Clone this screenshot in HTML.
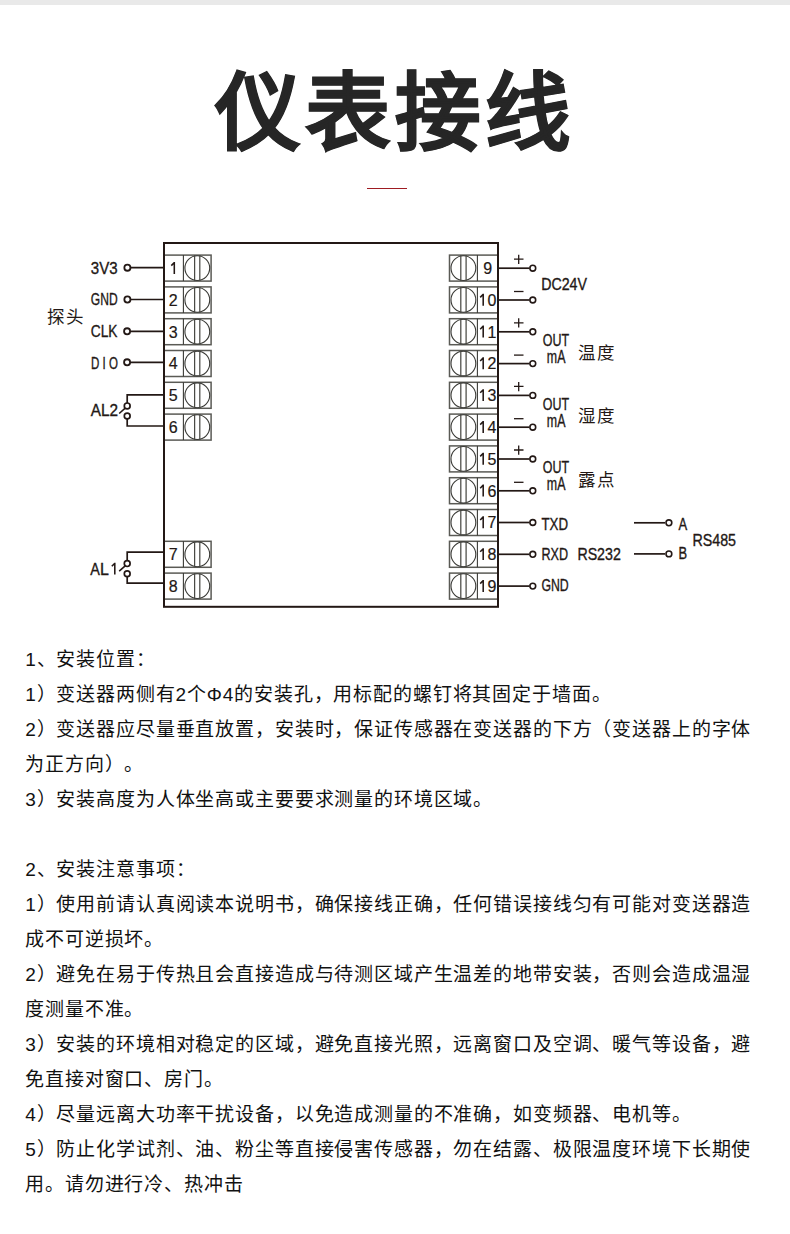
<!DOCTYPE html>
<html lang="zh-CN"><head><meta charset="utf-8">
<style>
html,body{margin:0;padding:0;background:#fff;}
body{width:790px;height:1234px;position:relative;overflow:hidden;font-family:"Liberation Sans",sans-serif;}
.topbar{position:absolute;left:0;top:0;width:790px;height:5px;background:#e9e9e9;}
.title{position:absolute;left:215px;top:43.5px;font-size:85.5px;letter-spacing:4.1px;-webkit-text-stroke:1px #262626;font-weight:bold;color:#262626;line-height:140px;white-space:nowrap;}
.redline{position:absolute;left:367px;top:188px;width:40px;height:1px;background:#9e1b22;}
.t{position:absolute;left:25.2px;font-size:19px;letter-spacing:0.85px;color:#111;font-weight:500;white-space:nowrap;line-height:35px;text-spacing-trim:space-all;}
svg{position:absolute;left:0;top:0;}
.num{font-family:"Liberation Sans",sans-serif;font-size:16px;fill:#231815;stroke:#231815;stroke-width:0.2px;}
.lab{font-family:"Liberation Sans",sans-serif;font-size:17px;fill:#231815;stroke:#231815;stroke-width:0.35px;}
.cjk{font-family:"Liberation Sans",sans-serif;font-size:17.5px;letter-spacing:2.1px;font-weight:500;fill:#231815;}
</style></head><body>
<div class="topbar"></div>
<div class="title">仪表接线</div>
<div class="redline"></div>
<svg width="790" height="640" viewBox="0 0 790 640">
<rect x="164" y="255.10" width="47.10" height="26.0" fill="none" stroke="#5a5a55" stroke-width="1.5"/>
<line x1="183.4" y1="255.10" x2="183.4" y2="281.10" stroke="#3a3a36" stroke-width="1.1"/>
<circle cx="197.3" cy="268.10" r="12.4" fill="none" stroke="#3a3a36" stroke-width="1.1"/>
<line x1="194.60000000000002" y1="255.10" x2="194.60000000000002" y2="281.10" stroke="#4a4a45" stroke-width="1.25"/>
<line x1="199.8" y1="255.10" x2="199.8" y2="281.10" stroke="#4a4a45" stroke-width="1.25"/>
<path d="M171.30 265.60 L174.10 262.70 H174.30 V273.90" fill="none" stroke="#231815" stroke-width="1.55" stroke-linejoin="miter"/>
<rect x="164" y="286.90" width="47.10" height="26.0" fill="none" stroke="#5a5a55" stroke-width="1.5"/>
<line x1="183.4" y1="286.90" x2="183.4" y2="312.90" stroke="#3a3a36" stroke-width="1.1"/>
<circle cx="197.3" cy="299.90" r="12.4" fill="none" stroke="#3a3a36" stroke-width="1.1"/>
<line x1="194.60000000000002" y1="286.90" x2="194.60000000000002" y2="312.90" stroke="#4a4a45" stroke-width="1.25"/>
<line x1="199.8" y1="286.90" x2="199.8" y2="312.90" stroke="#4a4a45" stroke-width="1.25"/>
<text x="173.3" y="305.70" class="num" text-anchor="middle">2</text>
<rect x="164" y="318.70" width="47.10" height="26.0" fill="none" stroke="#5a5a55" stroke-width="1.5"/>
<line x1="183.4" y1="318.70" x2="183.4" y2="344.70" stroke="#3a3a36" stroke-width="1.1"/>
<circle cx="197.3" cy="331.70" r="12.4" fill="none" stroke="#3a3a36" stroke-width="1.1"/>
<line x1="194.60000000000002" y1="318.70" x2="194.60000000000002" y2="344.70" stroke="#4a4a45" stroke-width="1.25"/>
<line x1="199.8" y1="318.70" x2="199.8" y2="344.70" stroke="#4a4a45" stroke-width="1.25"/>
<text x="173.3" y="337.50" class="num" text-anchor="middle">3</text>
<rect x="164" y="350.50" width="47.10" height="26.0" fill="none" stroke="#5a5a55" stroke-width="1.5"/>
<line x1="183.4" y1="350.50" x2="183.4" y2="376.50" stroke="#3a3a36" stroke-width="1.1"/>
<circle cx="197.3" cy="363.50" r="12.4" fill="none" stroke="#3a3a36" stroke-width="1.1"/>
<line x1="194.60000000000002" y1="350.50" x2="194.60000000000002" y2="376.50" stroke="#4a4a45" stroke-width="1.25"/>
<line x1="199.8" y1="350.50" x2="199.8" y2="376.50" stroke="#4a4a45" stroke-width="1.25"/>
<text x="173.3" y="369.30" class="num" text-anchor="middle">4</text>
<rect x="164" y="382.30" width="47.10" height="26.0" fill="none" stroke="#5a5a55" stroke-width="1.5"/>
<line x1="183.4" y1="382.30" x2="183.4" y2="408.30" stroke="#3a3a36" stroke-width="1.1"/>
<circle cx="197.3" cy="395.30" r="12.4" fill="none" stroke="#3a3a36" stroke-width="1.1"/>
<line x1="194.60000000000002" y1="382.30" x2="194.60000000000002" y2="408.30" stroke="#4a4a45" stroke-width="1.25"/>
<line x1="199.8" y1="382.30" x2="199.8" y2="408.30" stroke="#4a4a45" stroke-width="1.25"/>
<text x="173.3" y="401.10" class="num" text-anchor="middle">5</text>
<rect x="164" y="414.10" width="47.10" height="26.0" fill="none" stroke="#5a5a55" stroke-width="1.5"/>
<line x1="183.4" y1="414.10" x2="183.4" y2="440.10" stroke="#3a3a36" stroke-width="1.1"/>
<circle cx="197.3" cy="427.10" r="12.4" fill="none" stroke="#3a3a36" stroke-width="1.1"/>
<line x1="194.60000000000002" y1="414.10" x2="194.60000000000002" y2="440.10" stroke="#4a4a45" stroke-width="1.25"/>
<line x1="199.8" y1="414.10" x2="199.8" y2="440.10" stroke="#4a4a45" stroke-width="1.25"/>
<text x="173.3" y="432.90" class="num" text-anchor="middle">6</text>
<rect x="164" y="541.30" width="47.10" height="26.0" fill="none" stroke="#5a5a55" stroke-width="1.5"/>
<line x1="183.4" y1="541.30" x2="183.4" y2="567.30" stroke="#3a3a36" stroke-width="1.1"/>
<circle cx="197.3" cy="554.30" r="12.4" fill="none" stroke="#3a3a36" stroke-width="1.1"/>
<line x1="194.60000000000002" y1="541.30" x2="194.60000000000002" y2="567.30" stroke="#4a4a45" stroke-width="1.25"/>
<line x1="199.8" y1="541.30" x2="199.8" y2="567.30" stroke="#4a4a45" stroke-width="1.25"/>
<text x="173.3" y="560.10" class="num" text-anchor="middle">7</text>
<rect x="164" y="573.10" width="47.10" height="26.0" fill="none" stroke="#5a5a55" stroke-width="1.5"/>
<line x1="183.4" y1="573.10" x2="183.4" y2="599.10" stroke="#3a3a36" stroke-width="1.1"/>
<circle cx="197.3" cy="586.10" r="12.4" fill="none" stroke="#3a3a36" stroke-width="1.1"/>
<line x1="194.60000000000002" y1="573.10" x2="194.60000000000002" y2="599.10" stroke="#4a4a45" stroke-width="1.25"/>
<line x1="199.8" y1="573.10" x2="199.8" y2="599.10" stroke="#4a4a45" stroke-width="1.25"/>
<text x="173.3" y="591.90" class="num" text-anchor="middle">8</text>
<rect x="449.5" y="255.10" width="48.50" height="26.0" fill="none" stroke="#5a5a55" stroke-width="1.5"/>
<line x1="477.4" y1="255.10" x2="477.4" y2="281.10" stroke="#3a3a36" stroke-width="1.1"/>
<circle cx="463.4" cy="268.10" r="12.4" fill="none" stroke="#3a3a36" stroke-width="1.1"/>
<line x1="460.79999999999995" y1="255.10" x2="460.79999999999995" y2="281.10" stroke="#4a4a45" stroke-width="1.25"/>
<line x1="466.09999999999997" y1="255.10" x2="466.09999999999997" y2="281.10" stroke="#4a4a45" stroke-width="1.25"/>
<text x="487.6" y="273.90" class="num" text-anchor="middle">9</text>
<rect x="449.5" y="286.90" width="48.50" height="26.0" fill="none" stroke="#5a5a55" stroke-width="1.5"/>
<line x1="477.4" y1="286.90" x2="477.4" y2="312.90" stroke="#3a3a36" stroke-width="1.1"/>
<circle cx="463.4" cy="299.90" r="12.4" fill="none" stroke="#3a3a36" stroke-width="1.1"/>
<line x1="460.79999999999995" y1="286.90" x2="460.79999999999995" y2="312.90" stroke="#4a4a45" stroke-width="1.25"/>
<line x1="466.09999999999997" y1="286.90" x2="466.09999999999997" y2="312.90" stroke="#4a4a45" stroke-width="1.25"/>
<path d="M480.20 297.40 L483.00 294.50 H483.20 V305.70" fill="none" stroke="#231815" stroke-width="1.55" stroke-linejoin="miter"/>
<text x="487.40" y="305.70" class="num">0</text>
<rect x="449.5" y="318.70" width="48.50" height="26.0" fill="none" stroke="#5a5a55" stroke-width="1.5"/>
<line x1="477.4" y1="318.70" x2="477.4" y2="344.70" stroke="#3a3a36" stroke-width="1.1"/>
<circle cx="463.4" cy="331.70" r="12.4" fill="none" stroke="#3a3a36" stroke-width="1.1"/>
<line x1="460.79999999999995" y1="318.70" x2="460.79999999999995" y2="344.70" stroke="#4a4a45" stroke-width="1.25"/>
<line x1="466.09999999999997" y1="318.70" x2="466.09999999999997" y2="344.70" stroke="#4a4a45" stroke-width="1.25"/>
<path d="M480.20 329.20 L483.00 326.30 H483.20 V337.50" fill="none" stroke="#231815" stroke-width="1.55" stroke-linejoin="miter"/>
<text x="487.40" y="337.50" class="num">1</text>
<rect x="449.5" y="350.50" width="48.50" height="26.0" fill="none" stroke="#5a5a55" stroke-width="1.5"/>
<line x1="477.4" y1="350.50" x2="477.4" y2="376.50" stroke="#3a3a36" stroke-width="1.1"/>
<circle cx="463.4" cy="363.50" r="12.4" fill="none" stroke="#3a3a36" stroke-width="1.1"/>
<line x1="460.79999999999995" y1="350.50" x2="460.79999999999995" y2="376.50" stroke="#4a4a45" stroke-width="1.25"/>
<line x1="466.09999999999997" y1="350.50" x2="466.09999999999997" y2="376.50" stroke="#4a4a45" stroke-width="1.25"/>
<path d="M480.20 361.00 L483.00 358.10 H483.20 V369.30" fill="none" stroke="#231815" stroke-width="1.55" stroke-linejoin="miter"/>
<text x="487.40" y="369.30" class="num">2</text>
<rect x="449.5" y="382.30" width="48.50" height="26.0" fill="none" stroke="#5a5a55" stroke-width="1.5"/>
<line x1="477.4" y1="382.30" x2="477.4" y2="408.30" stroke="#3a3a36" stroke-width="1.1"/>
<circle cx="463.4" cy="395.30" r="12.4" fill="none" stroke="#3a3a36" stroke-width="1.1"/>
<line x1="460.79999999999995" y1="382.30" x2="460.79999999999995" y2="408.30" stroke="#4a4a45" stroke-width="1.25"/>
<line x1="466.09999999999997" y1="382.30" x2="466.09999999999997" y2="408.30" stroke="#4a4a45" stroke-width="1.25"/>
<path d="M480.20 392.80 L483.00 389.90 H483.20 V401.10" fill="none" stroke="#231815" stroke-width="1.55" stroke-linejoin="miter"/>
<text x="487.40" y="401.10" class="num">3</text>
<rect x="449.5" y="414.10" width="48.50" height="26.0" fill="none" stroke="#5a5a55" stroke-width="1.5"/>
<line x1="477.4" y1="414.10" x2="477.4" y2="440.10" stroke="#3a3a36" stroke-width="1.1"/>
<circle cx="463.4" cy="427.10" r="12.4" fill="none" stroke="#3a3a36" stroke-width="1.1"/>
<line x1="460.79999999999995" y1="414.10" x2="460.79999999999995" y2="440.10" stroke="#4a4a45" stroke-width="1.25"/>
<line x1="466.09999999999997" y1="414.10" x2="466.09999999999997" y2="440.10" stroke="#4a4a45" stroke-width="1.25"/>
<path d="M480.20 424.60 L483.00 421.70 H483.20 V432.90" fill="none" stroke="#231815" stroke-width="1.55" stroke-linejoin="miter"/>
<text x="487.40" y="432.90" class="num">4</text>
<rect x="449.5" y="445.90" width="48.50" height="26.0" fill="none" stroke="#5a5a55" stroke-width="1.5"/>
<line x1="477.4" y1="445.90" x2="477.4" y2="471.90" stroke="#3a3a36" stroke-width="1.1"/>
<circle cx="463.4" cy="458.90" r="12.4" fill="none" stroke="#3a3a36" stroke-width="1.1"/>
<line x1="460.79999999999995" y1="445.90" x2="460.79999999999995" y2="471.90" stroke="#4a4a45" stroke-width="1.25"/>
<line x1="466.09999999999997" y1="445.90" x2="466.09999999999997" y2="471.90" stroke="#4a4a45" stroke-width="1.25"/>
<path d="M480.20 456.40 L483.00 453.50 H483.20 V464.70" fill="none" stroke="#231815" stroke-width="1.55" stroke-linejoin="miter"/>
<text x="487.40" y="464.70" class="num">5</text>
<rect x="449.5" y="477.70" width="48.50" height="26.0" fill="none" stroke="#5a5a55" stroke-width="1.5"/>
<line x1="477.4" y1="477.70" x2="477.4" y2="503.70" stroke="#3a3a36" stroke-width="1.1"/>
<circle cx="463.4" cy="490.70" r="12.4" fill="none" stroke="#3a3a36" stroke-width="1.1"/>
<line x1="460.79999999999995" y1="477.70" x2="460.79999999999995" y2="503.70" stroke="#4a4a45" stroke-width="1.25"/>
<line x1="466.09999999999997" y1="477.70" x2="466.09999999999997" y2="503.70" stroke="#4a4a45" stroke-width="1.25"/>
<path d="M480.20 488.20 L483.00 485.30 H483.20 V496.50" fill="none" stroke="#231815" stroke-width="1.55" stroke-linejoin="miter"/>
<text x="487.40" y="496.50" class="num">6</text>
<rect x="449.5" y="509.50" width="48.50" height="26.0" fill="none" stroke="#5a5a55" stroke-width="1.5"/>
<line x1="477.4" y1="509.50" x2="477.4" y2="535.50" stroke="#3a3a36" stroke-width="1.1"/>
<circle cx="463.4" cy="522.50" r="12.4" fill="none" stroke="#3a3a36" stroke-width="1.1"/>
<line x1="460.79999999999995" y1="509.50" x2="460.79999999999995" y2="535.50" stroke="#4a4a45" stroke-width="1.25"/>
<line x1="466.09999999999997" y1="509.50" x2="466.09999999999997" y2="535.50" stroke="#4a4a45" stroke-width="1.25"/>
<path d="M480.20 520.00 L483.00 517.10 H483.20 V528.30" fill="none" stroke="#231815" stroke-width="1.55" stroke-linejoin="miter"/>
<text x="487.40" y="528.30" class="num">7</text>
<rect x="449.5" y="541.30" width="48.50" height="26.0" fill="none" stroke="#5a5a55" stroke-width="1.5"/>
<line x1="477.4" y1="541.30" x2="477.4" y2="567.30" stroke="#3a3a36" stroke-width="1.1"/>
<circle cx="463.4" cy="554.30" r="12.4" fill="none" stroke="#3a3a36" stroke-width="1.1"/>
<line x1="460.79999999999995" y1="541.30" x2="460.79999999999995" y2="567.30" stroke="#4a4a45" stroke-width="1.25"/>
<line x1="466.09999999999997" y1="541.30" x2="466.09999999999997" y2="567.30" stroke="#4a4a45" stroke-width="1.25"/>
<path d="M480.20 551.80 L483.00 548.90 H483.20 V560.10" fill="none" stroke="#231815" stroke-width="1.55" stroke-linejoin="miter"/>
<text x="487.40" y="560.10" class="num">8</text>
<rect x="449.5" y="573.10" width="48.50" height="26.0" fill="none" stroke="#5a5a55" stroke-width="1.5"/>
<line x1="477.4" y1="573.10" x2="477.4" y2="599.10" stroke="#3a3a36" stroke-width="1.1"/>
<circle cx="463.4" cy="586.10" r="12.4" fill="none" stroke="#3a3a36" stroke-width="1.1"/>
<line x1="460.79999999999995" y1="573.10" x2="460.79999999999995" y2="599.10" stroke="#4a4a45" stroke-width="1.25"/>
<line x1="466.09999999999997" y1="573.10" x2="466.09999999999997" y2="599.10" stroke="#4a4a45" stroke-width="1.25"/>
<path d="M480.20 583.60 L483.00 580.70 H483.20 V591.90" fill="none" stroke="#231815" stroke-width="1.55" stroke-linejoin="miter"/>
<text x="487.40" y="591.90" class="num">9</text>
<rect x="164" y="243" width="334" height="363.8" fill="none" stroke="#231815" stroke-width="2"/>
<line x1="131" y1="267.70" x2="164" y2="267.70" stroke="#231815" stroke-width="1.7"/>
<circle cx="127.4" cy="267.70" r="3.05" fill="#fff" stroke="#231815" stroke-width="1.8"/>
<line x1="131" y1="299.50" x2="164" y2="299.50" stroke="#231815" stroke-width="1.7"/>
<circle cx="127.4" cy="299.50" r="3.05" fill="#fff" stroke="#231815" stroke-width="1.8"/>
<line x1="131" y1="331.30" x2="164" y2="331.30" stroke="#231815" stroke-width="1.7"/>
<circle cx="127.1" cy="331.30" r="3.05" fill="#fff" stroke="#231815" stroke-width="1.8"/>
<text x="90.8" y="273.7" class="lab" textLength="26.8" lengthAdjust="spacingAndGlyphs">3V3</text>
<text x="90.8" y="304.7" class="lab" textLength="26.8" lengthAdjust="spacingAndGlyphs">GND</text>
<text x="90.8" y="336.6" class="lab" textLength="26.7" lengthAdjust="spacingAndGlyphs">CLK</text>
<line x1="131" y1="362.30" x2="164" y2="362.30" stroke="#231815" stroke-width="1.7"/>
<circle cx="127.1" cy="362.30" r="3.05" fill="#fff" stroke="#231815" stroke-width="1.8"/>
<text x="91.1" y="368.5" class="lab" textLength="26.9" lengthAdjust="spacingAndGlyphs">D I O</text>
<polyline points="164,394.90 127.2,394.90 127.2,402.90" fill="none" stroke="#231815" stroke-width="1.7"/>
<polyline points="164,426.00 127.2,426.00 127.2,419.00" fill="none" stroke="#231815" stroke-width="1.7"/>
<circle cx="127.2" cy="405.90" r="2.9" fill="#fff" stroke="#231815" stroke-width="1.7"/>
<circle cx="127.2" cy="416.00" r="2.9" fill="#fff" stroke="#231815" stroke-width="1.7"/>
<line x1="119.2" y1="413.50" x2="125.2" y2="408.20" stroke="#231815" stroke-width="1.6"/>
<text x="90.7" y="415.8" class="lab" textLength="27.3" lengthAdjust="spacingAndGlyphs">AL2</text>
<polyline points="164,552.20 127.2,552.20 127.2,560.60" fill="none" stroke="#231815" stroke-width="1.7"/>
<polyline points="164,583.20 127.2,583.20 127.2,576.70" fill="none" stroke="#231815" stroke-width="1.7"/>
<circle cx="127.2" cy="563.60" r="2.9" fill="#fff" stroke="#231815" stroke-width="1.7"/>
<circle cx="127.2" cy="573.70" r="2.9" fill="#fff" stroke="#231815" stroke-width="1.7"/>
<line x1="119.2" y1="571.20" x2="125.2" y2="565.90" stroke="#231815" stroke-width="1.6"/>
<text x="90.3" y="574.7" class="lab" textLength="9.6" lengthAdjust="spacingAndGlyphs">A</text>
<text x="100.0" y="574.7" class="lab" textLength="8.9" lengthAdjust="spacingAndGlyphs">L</text>
<path d="M111.80 566.30 L114.60 563.40 H114.80 V574.60" fill="none" stroke="#231815" stroke-width="1.55" stroke-linejoin="miter"/>
<text x="47.2" y="322.9" class="cjk">探头</text>
<line x1="498" y1="268.20" x2="529.5" y2="268.20" stroke="#231815" stroke-width="1.7"/>
<circle cx="532.8" cy="268.20" r="2.9" fill="#fff" stroke="#231815" stroke-width="1.6"/>
<path d="M514 259.20 H523.5 M518.7 254.70 V264.00" stroke="#231815" stroke-width="1.3" fill="none"/>
<line x1="498" y1="300.00" x2="529.5" y2="300.00" stroke="#231815" stroke-width="1.7"/>
<circle cx="532.8" cy="300.00" r="2.9" fill="#fff" stroke="#231815" stroke-width="1.6"/>
<path d="M514 291.50 H523.5" stroke="#231815" stroke-width="1.3" fill="none"/>
<line x1="498" y1="331.80" x2="529.5" y2="331.80" stroke="#231815" stroke-width="1.7"/>
<circle cx="532.8" cy="331.80" r="2.9" fill="#fff" stroke="#231815" stroke-width="1.6"/>
<path d="M514 322.80 H523.5 M518.7 318.30 V327.60" stroke="#231815" stroke-width="1.3" fill="none"/>
<line x1="498" y1="363.60" x2="529.5" y2="363.60" stroke="#231815" stroke-width="1.7"/>
<circle cx="532.8" cy="363.60" r="2.9" fill="#fff" stroke="#231815" stroke-width="1.6"/>
<path d="M514 355.10 H523.5" stroke="#231815" stroke-width="1.3" fill="none"/>
<line x1="498" y1="395.40" x2="529.5" y2="395.40" stroke="#231815" stroke-width="1.7"/>
<circle cx="532.8" cy="395.40" r="2.9" fill="#fff" stroke="#231815" stroke-width="1.6"/>
<path d="M514 386.40 H523.5 M518.7 381.90 V391.20" stroke="#231815" stroke-width="1.3" fill="none"/>
<line x1="498" y1="427.20" x2="529.5" y2="427.20" stroke="#231815" stroke-width="1.7"/>
<circle cx="532.8" cy="427.20" r="2.9" fill="#fff" stroke="#231815" stroke-width="1.6"/>
<path d="M514 418.70 H523.5" stroke="#231815" stroke-width="1.3" fill="none"/>
<line x1="498" y1="459.00" x2="529.5" y2="459.00" stroke="#231815" stroke-width="1.7"/>
<circle cx="532.8" cy="459.00" r="2.9" fill="#fff" stroke="#231815" stroke-width="1.6"/>
<path d="M514 450.00 H523.5 M518.7 445.50 V454.80" stroke="#231815" stroke-width="1.3" fill="none"/>
<line x1="498" y1="490.80" x2="529.5" y2="490.80" stroke="#231815" stroke-width="1.7"/>
<circle cx="532.8" cy="490.80" r="2.9" fill="#fff" stroke="#231815" stroke-width="1.6"/>
<path d="M514 482.30 H523.5" stroke="#231815" stroke-width="1.3" fill="none"/>
<line x1="498" y1="522.50" x2="529.5" y2="522.50" stroke="#231815" stroke-width="1.7"/>
<circle cx="532.8" cy="522.50" r="2.9" fill="#fff" stroke="#231815" stroke-width="1.6"/>
<line x1="498" y1="554.30" x2="529.5" y2="554.30" stroke="#231815" stroke-width="1.7"/>
<circle cx="532.8" cy="554.30" r="2.9" fill="#fff" stroke="#231815" stroke-width="1.6"/>
<line x1="498" y1="586.10" x2="529.5" y2="586.10" stroke="#231815" stroke-width="1.7"/>
<circle cx="532.8" cy="586.10" r="2.9" fill="#fff" stroke="#231815" stroke-width="1.6"/>
<text x="541.2" y="289.6" class="lab" textLength="45.8" lengthAdjust="spacingAndGlyphs">DC24V</text>
<text x="542.7" y="345.9" class="lab" textLength="26.3" lengthAdjust="spacingAndGlyphs">OUT</text>
<text x="546.8" y="362.90" class="lab" style="font-size:18px" textLength="18.6" lengthAdjust="spacingAndGlyphs">mA</text>
<text x="542.7" y="409.5" class="lab" textLength="26.3" lengthAdjust="spacingAndGlyphs">OUT</text>
<text x="546.8" y="426.50" class="lab" style="font-size:18px" textLength="18.6" lengthAdjust="spacingAndGlyphs">mA</text>
<text x="542.7" y="473.09999999999997" class="lab" textLength="26.3" lengthAdjust="spacingAndGlyphs">OUT</text>
<text x="546.8" y="490.10" class="lab" style="font-size:18px" textLength="18.6" lengthAdjust="spacingAndGlyphs">mA</text>
<text x="577.6" y="358.70" class="cjk">温度</text>
<text x="577.6" y="422.30" class="cjk">湿度</text>
<text x="577.6" y="485.90" class="cjk">露点</text>
<text x="541.4" y="529.5" class="lab" textLength="26.6" lengthAdjust="spacingAndGlyphs">TXD</text>
<text x="541.4" y="560.3" class="lab" textLength="26.6" lengthAdjust="spacingAndGlyphs">RXD</text>
<text x="577.4" y="560.3" class="lab" textLength="43.4" lengthAdjust="spacingAndGlyphs">RS232</text>
<text x="541.4" y="590.6" class="lab" textLength="27.3" lengthAdjust="spacingAndGlyphs">GND</text>
<line x1="634" y1="522.8" x2="665" y2="522.8" stroke="#231815" stroke-width="1.7"/>
<circle cx="668.9" cy="522.80" r="2.9" fill="#fff" stroke="#231815" stroke-width="1.6"/>
<line x1="634" y1="553.9" x2="665" y2="553.9" stroke="#231815" stroke-width="1.7"/>
<circle cx="668.9" cy="553.90" r="2.9" fill="#fff" stroke="#231815" stroke-width="1.6"/>
<text x="678.4" y="529.7" class="lab" textLength="8.7" lengthAdjust="spacingAndGlyphs">A</text>
<text x="678.4" y="559.3" class="lab" textLength="8.6" lengthAdjust="spacingAndGlyphs">B</text>
<text x="692.4" y="546.1" class="lab" textLength="43.6" lengthAdjust="spacingAndGlyphs">RS485</text>
</svg>
<div class="t" style="top:641.6px">1、安装位置：</div>
<div class="t" style="top:676.6px">1）变送器两侧有2个Φ4的安装孔，用标配的螺钉将其固定于墙面。</div>
<div class="t" style="top:711.6px">2）变送器应尽量垂直放置，安装时，保证传感器在变送器的下方（变送器上的字体</div>
<div class="t" style="top:746.6px">为正方向）。</div>
<div class="t" style="top:781.6px">3）安装高度为人体坐高或主要要求测量的环境区域。</div>
<div class="t" style="top:851.6px">2、安装注意事项：</div>
<div class="t" style="top:886.6px">1）使用前请认真阅读本说明书，确保接线正确，任何错误接线匀有可能对变送器造</div>
<div class="t" style="top:921.6px">成不可逆损坏。</div>
<div class="t" style="top:956.6px">2）避免在易于传热且会直接造成与待测区域产生温差的地带安装，否则会造成温湿</div>
<div class="t" style="top:991.6px">度测量不准。</div>
<div class="t" style="top:1026.6px">3）安装的环境相对稳定的区域，避免直接光照，远离窗口及空调、暖气等设备，避</div>
<div class="t" style="top:1061.6px">免直接对窗口、房门。</div>
<div class="t" style="top:1096.6px">4）尽量远离大功率干扰设备，以免造成测量的不准确，如变频器、电机等。</div>
<div class="t" style="top:1131.6px">5）防止化学试剂、油、粉尘等直接侵害传感器，勿在结露、极限温度环境下长期使</div>
<div class="t" style="top:1166.6px">用。请勿进行冷、热冲击</div>
</body></html>
